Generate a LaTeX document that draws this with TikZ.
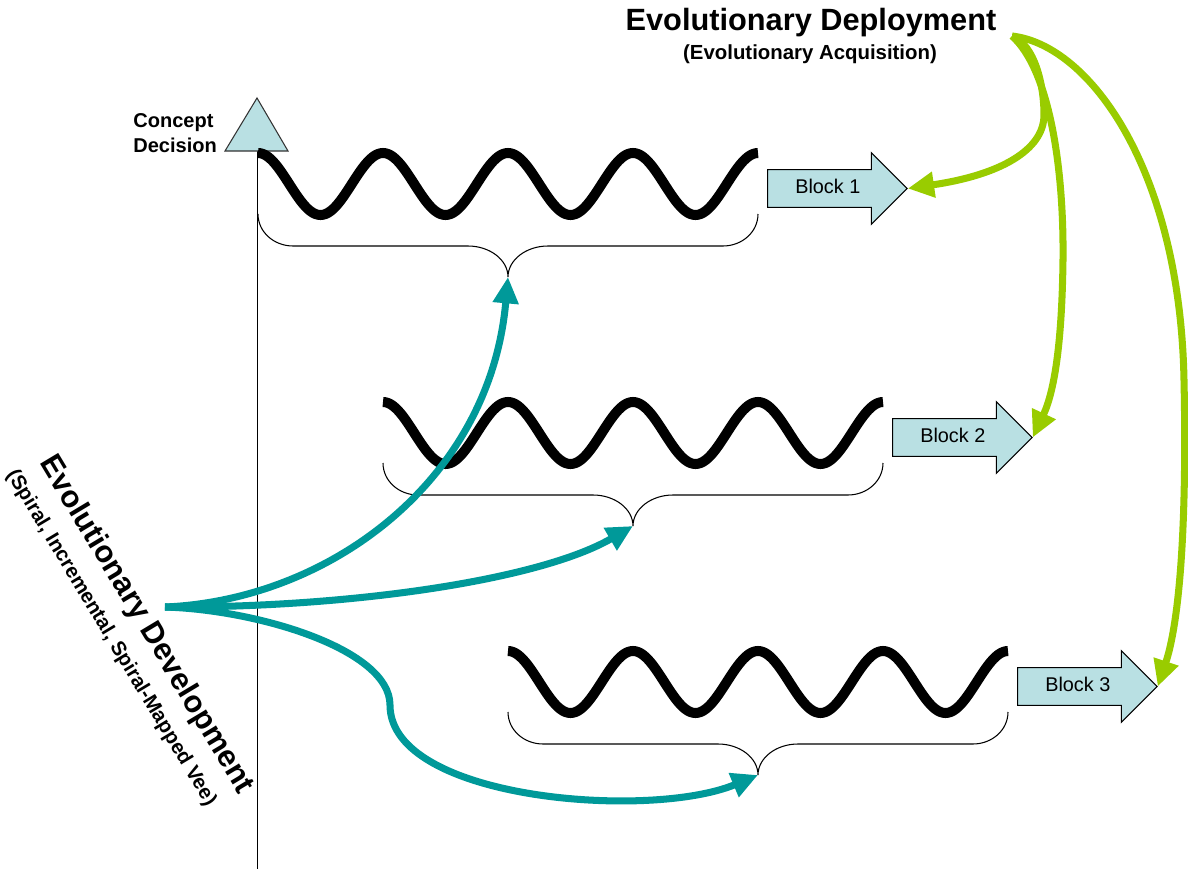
\documentclass[tikz,border=0pt]{standalone}
\usepackage{fontspec}
\setmainfont{Liberation Sans}
\usetikzlibrary{arrows.meta,shapes.arrows}
\definecolor{devteal}{RGB}{0,153,153}
\definecolor{depgreen}{RGB}{153,204,0}
\definecolor{paleblue}{RGB}{185,224,227}
\begin{document}
\begin{tikzpicture}[x=0.02cm,y=-0.02cm,
  wave/.style={line width=5.7pt},
  bracket/.style={line width=0.6pt},
  axisline/.style={line width=0.7pt},
  devarrow/.style={devteal, line width=4pt, -{Triangle[length=15pt,width=14pt]}},
  deparrow/.style={depgreen, line width=4pt, -{Triangle[length=15pt,width=14pt]}},
  blockarrow/.style={shape=single arrow, draw=black, fill=paleblue, line width=0.6pt,
    single arrow head extend=9.6pt, minimum height=79.4pt, inner ysep=5.2pt, inner xsep=2pt,
    text height=8pt, text depth=2.5pt, font=\fontsize{11.3}{13}\selectfont},
  titlefont/.style={font=\bfseries\fontsize{17.5}{20}\selectfont},
  subfont/.style={font=\bfseries\fontsize{11.6}{14}\selectfont},
  ]
\useasboundingbox (0,0) rectangle (1188,869);

% time axis and concept decision milestone
\coordinate (axtop) at (257.5,151);
\coordinate (axbot) at (257.5,869);
\draw[axisline] (axtop) -- (axbot);
\coordinate (tl) at (225,151);
\coordinate (tt) at (257,98);
\coordinate (tr) at (288,151);
\draw[fill=paleblue, draw=black!80, line width=0.6pt] (tl) -- (tt) -- (tr) -- cycle;
\node[anchor=west, align=left, inner sep=0pt, font=\bfseries\fontsize{11.4}{14}\selectfont]
  (concept) at (133,133) {Concept\\Decision};

% development spirals, their brackets and the delivered blocks
\foreach \xs/\yc/\n in {258/184/1, 383/433/2, 508/682/3} {
  \draw[wave] plot[domain=0:500, samples=201] ({\xs+\x}, {\yc-31*cos(2.88*\x)});
  \draw[bracket] ({\xs},{\yc+30})
     .. controls ({\xs},{\yc+48}) and ({\xs+16},{\yc+62}) .. ({\xs+35},{\yc+62})
     -- ({\xs+210},{\yc+62})
     .. controls ({\xs+232},{\yc+62}) and ({\xs+250},{\yc+76}) .. ({\xs+250},{\yc+93})
     .. controls ({\xs+250},{\yc+76}) and ({\xs+268},{\yc+62}) .. ({\xs+290},{\yc+62})
     -- ({\xs+465},{\yc+62})
     .. controls ({\xs+484},{\yc+62}) and ({\xs+500},{\yc+48}) .. ({\xs+500},{\yc+30});
  \coordinate (tip\n) at ({\xs+250},{\yc+93});
  \node[blockarrow, anchor=tail] (b\n) at ({\xs+509},{\yc+4.5}) {Block \n};
}

% evolutionary development
\coordinate (dev) at (165,607);
\node[titlefont, rotate=-59] (devtitle) at (146,625) {Evolutionary Development};
\node[subfont, rotate=-59] (devsub) at (111,638) {(Spiral, Incremental, Spiral-Mapped Vee)};
\draw[devarrow] (dev) .. controls (330,600) and (490,480) .. (tip1);
\draw[devarrow] (dev) .. controls (350,608) and (540,580) .. (tip2);
\draw[devarrow] (dev) .. controls (260,610) and (390,650) .. (390,705)
                      .. controls (390,800) and (650,820) .. (tip3);

% evolutionary deployment
\node[titlefont] (deptitle) at (811,23) {Evolutionary Deployment};
\node[subfont] (depsub) at (810,54) {(Evolutionary Acquisition)};
\coordinate (dep) at (1012,36);
\draw[deparrow] (dep) .. controls (1035,45) and (1044,85) .. (1044,115)
                      .. controls (1044,150) and (1000,175) .. (b1.tip);
\draw[deparrow] (dep) .. controls (1050,70) and (1064,170) .. (1063,260)
                      .. controls (1062,340) and (1055,390) .. (b2.tip);
\draw[deparrow] (dep) .. controls (1090,45) and (1180,170) .. (1184,380)
                      .. controls (1187,520) and (1180,620) .. (b3.tip);
\end{tikzpicture}
\end{document}
